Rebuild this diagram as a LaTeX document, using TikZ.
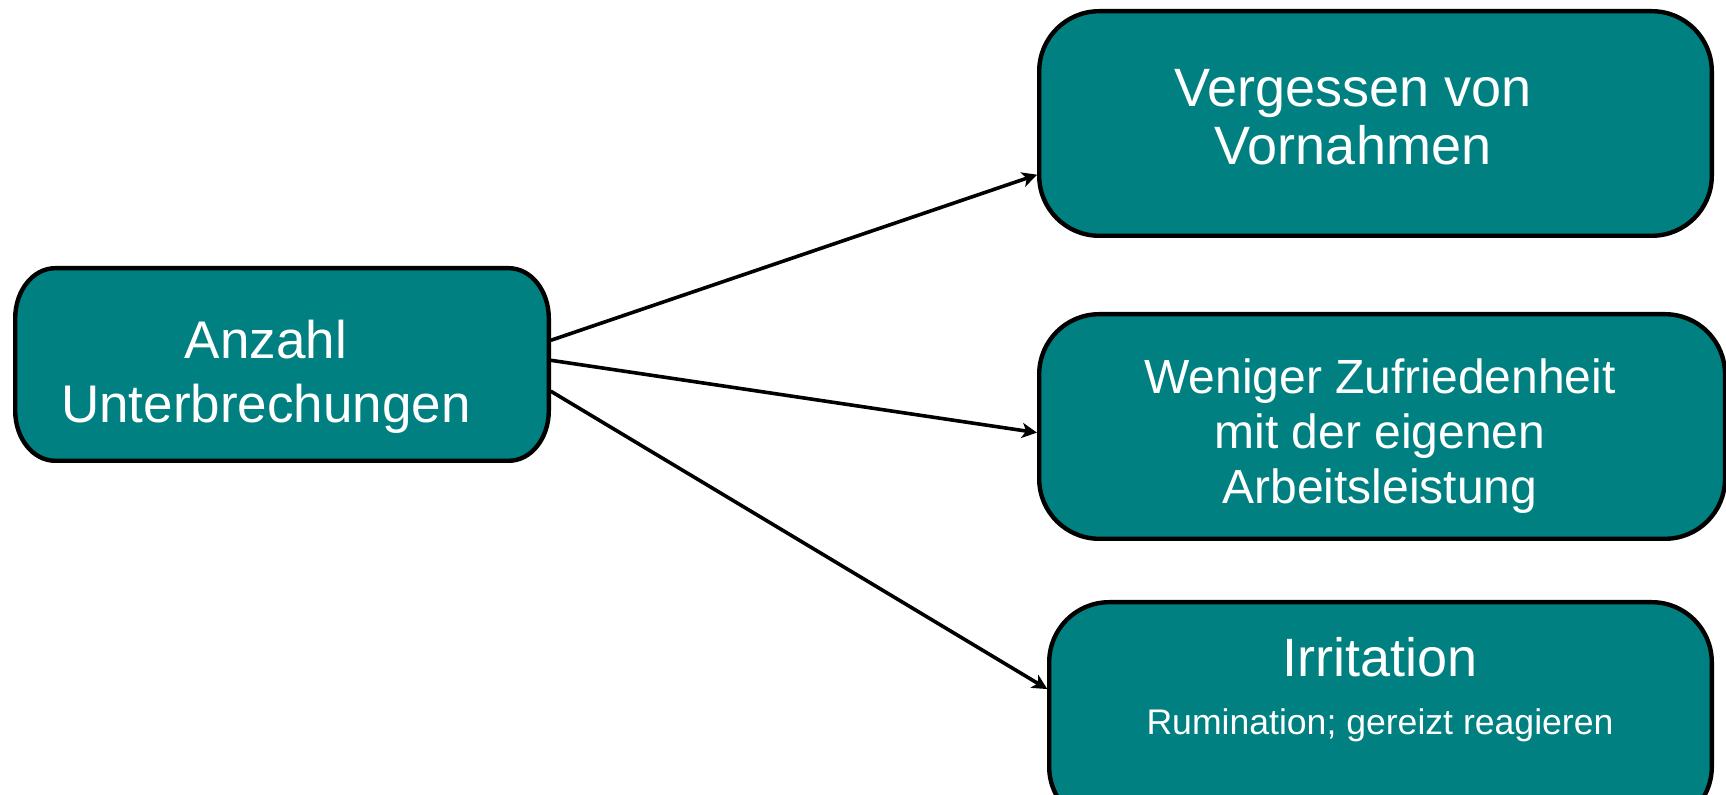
\documentclass[tikz,border=0pt]{standalone}
\usepackage{fontspec}
\setmainfont{Liberation Sans}
\usetikzlibrary{arrows.meta,calc}
\definecolor{boxteal}{RGB}{0,128,128}
\newcommand{\roundbox}[3]{%
  \path[box] let \p1=(#1.south west), \p2=(#1.north east) in
    (\x1+#2,\y2) -- (\x2-#2,\y2) arc[start angle=90,end angle=0,x radius=#2,y radius=#3]
    -- (\x2,\y1+#3) arc[start angle=0,end angle=-90,x radius=#2,y radius=#3]
    -- (\x1+#2,\y1) arc[start angle=270,end angle=180,x radius=#2,y radius=#3]
    -- (\x1,\y2-#3) arc[start angle=180,end angle=90,x radius=#2,y radius=#3] -- cycle;}
\begin{document}
\begin{tikzpicture}[x=0.5pt,y=-0.5pt,
  frame/.style={draw=none, inner sep=0pt, outer sep=0pt},
  box/.style={draw=black, line width=2.2pt, fill=boxteal},
  lbl/.style={text=white, align=center, inner sep=0pt},
  arr/.style={line width=1.8pt, shorten <=1.1pt, shorten >=1.1pt,
    -{Stealth[length=7.5pt,width=7.5pt,inset=2pt]}}]
\useasboundingbox (0,0) rectangle (1726,795);
\clip (0,0) rectangle (1726,795);
\node[frame, minimum width=266.8pt, minimum height=96.3pt] (L) at (282,364.5) {};
\node[frame, minimum width=336.3pt, minimum height=112.3pt] (T) at (1375.5,123.5) {};
\node[frame, minimum width=342.9pt, minimum height=112.3pt] (M) at (1382.1,426.5) {};
\node[frame, minimum width=331.3pt, minimum height=112.3pt] (B) at (1380.5,714.5) {};
\roundbox{L}{20pt}{25pt}
\roundbox{T}{30pt}{30pt}
\roundbox{M}{30pt}{30pt}
\roundbox{B}{30pt}{30pt}
\node[lbl, font=\fontsize{26.5}{32}\selectfont] (Lt) at (266,377) {Anzahl\\Unterbrechungen};
\node[lbl, font=\fontsize{27}{29}\selectfont] (Tt) at (1353,117) {Vergessen von\\Vornahmen};
\node[lbl, font=\fontsize{24}{27.5}\selectfont] (Mt) at (1380,436) {Weniger Zufriedenheit\\mit der eigenen\\Arbeitsleistung};
\node[lbl, font=\fontsize{27}{32}\selectfont, anchor=base] (Bt) at (1380,677) {Irritation};
\node[lbl, font=\fontsize{17.8}{20}\selectfont, anchor=base] (Bs) at (1380,735) {Rumination; gereizt reagieren};
\draw[arr] ($(L.east)+(0,-23.5)$) -- ($(T.west)+(0,50.5)$);
\draw[arr] ($(L.east)+(0,-4.5)$) -- ($(M.west)+(0,6.5)$);
\draw[arr] ($(L.east)+(0,25.5)$) -- ($(B.north west)+(0,88)$);
\end{tikzpicture}
\end{document}
